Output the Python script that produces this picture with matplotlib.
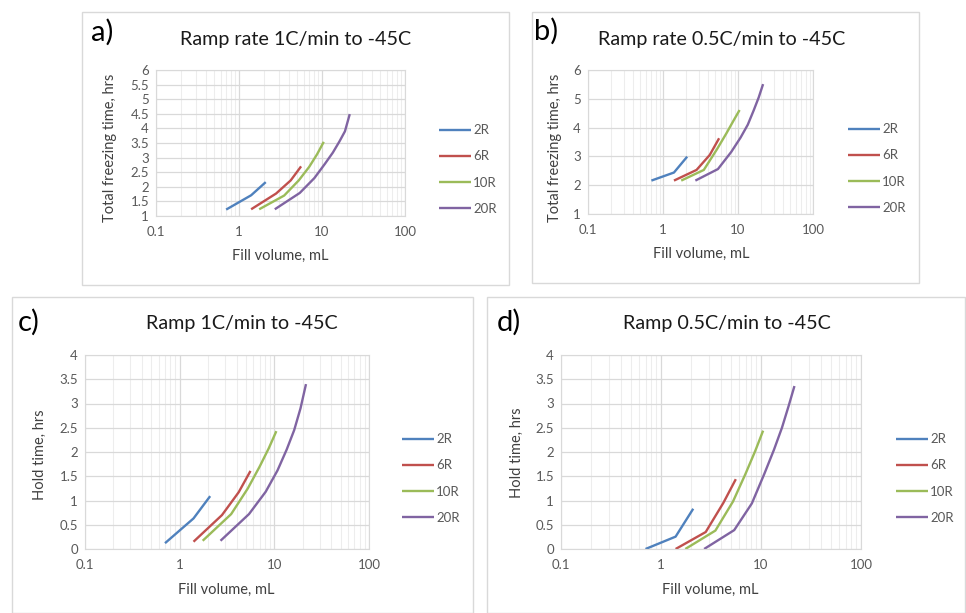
import matplotlib.pyplot as plt
from matplotlib.patches import Rectangle
from matplotlib.ticker import FixedLocator, LogLocator, NullFormatter

plt.rcParams['font.family'] = ['Lato', 'DejaVu Sans']

# fill volumes (mL) for each vial size
series_names = ['2R', '6R', '10R', '20R']
vol_2R = [0.7, 1.4, 2.1]
vol_6R = [1.4, 2.8, 4.2, 5.6]
vol_10R = [1.75, 3.5, 5.25, 7.0, 8.75, 10.5]
vol_20R = [2.7, 5.4, 8.1, 10.8, 13.5, 16.2, 18.9, 21.6]
volumes = [vol_2R, vol_6R, vol_10R, vol_20R]

# a) total freezing time, 1C/min
freeze_1C = [[1.22, 1.71, 2.16],
             [1.23, 1.77, 2.22, 2.70],
             [1.23, 1.70, 2.22, 2.68, 3.12, 3.54],
             [1.23, 1.79, 2.30, 2.78, 3.17, 3.55, 3.90, 4.49]]
# b) total freezing time, 0.5C/min
freeze_05C = [[2.16, 2.44, 2.99],
              [2.16, 2.53, 3.05, 3.63],
              [2.16, 2.53, 3.25, 3.80, 4.25, 4.61],
              [2.16, 2.56, 3.15, 3.65, 4.10, 4.60, 5.05, 5.51]]
# c) hold time, 1C/min
hold_1C = [[0.12, 0.63, 1.09],
           [0.15, 0.70, 1.17, 1.61],
           [0.17, 0.72, 1.25, 1.70, 2.08, 2.43],
           [0.17, 0.72, 1.18, 1.62, 2.05, 2.45, 2.90, 3.40]]
# d) hold time, 0.5C/min
hold_05C = [[0.0, 0.255, 0.83],
            [0.0, 0.35, 0.95, 1.44],
            [0.0, 0.38, 0.98, 1.55, 2.02, 2.44],
            [0.0, 0.39, 0.94, 1.55, 2.05, 2.50, 2.95, 3.36]]

colors = ['#4F81BD', '#C0504D', '#9BBB59', '#8064A2']

W, H = 966, 613
fig = plt.figure(figsize=(W / 100, H / 100), dpi=100)


def fx(x):
    return x / W


def fy(y):
    return 1 - y / H


def frame(x0, y0, x1, y1):
    fig.add_artist(Rectangle((fx(x0), fy(y1)), (x1 - x0) / W, (y1 - y0) / H,
                             transform=fig.transFigure, fill=False,
                             ec='#D9D9D9', lw=1))


def panel(box, data, ylim, yticks, ylabels, leg_x, leg_y):
    x0, y0, x1, y1 = box
    ax = fig.add_axes([fx(x0), fy(y1), (x1 - x0) / W, (y1 - y0) / H])
    handles = []
    for xs, ys, c, name in zip(volumes, data, colors, series_names):
        ln, = ax.plot(xs, ys, color=c, lw=1.7, label=name, solid_capstyle='butt')
        handles.append(ln)
    ax.set_xscale('log')
    ax.set_xlim(0.1, 100)
    ax.set_ylim(*ylim)
    ax.xaxis.set_major_locator(FixedLocator([0.1, 1, 10, 100]))
    ax.set_xticklabels(['0.1', '1', '10', '100'])
    ax.xaxis.set_minor_locator(LogLocator(subs=range(2, 10)))
    ax.xaxis.set_minor_formatter(NullFormatter())
    ax.set_yticks(yticks)
    ax.set_yticklabels(ylabels)
    ax.grid(which='major', color='#D9D9D9', lw=0.9)
    ax.grid(which='minor', axis='x', color='#EDEDED', lw=0.8)
    ax.set_axisbelow(True)
    ax.tick_params(which='both', length=0, labelsize=9.5, colors='#595959')
    ax.tick_params(axis='x', pad=7)
    ax.tick_params(axis='y', pad=5)
    for s in ax.spines.values():
        s.set_color('#D9D9D9')
    fig.legend(handles=handles, loc='center left',
               bbox_to_anchor=(fx(leg_x), fy(leg_y)), frameon=False,
               fontsize=9.5, labelcolor='#595959', handlelength=2.4,
               handletextpad=0.2, labelspacing=1.08, borderpad=0,
               borderaxespad=0)
    return ax


# panel frames
frame(82, 12, 509, 285)
frame(532, 12, 919, 283)
frame(12, 297, 473, 613)
frame(487, 297, 965, 613)

ticks_a = [1, 1.5, 2, 2.5, 3, 3.5, 4, 4.5, 5, 5.5, 6]
ticks_cd = [0, 0.5, 1, 1.5, 2, 2.5, 3, 3.5, 4]

panel((156, 70, 405, 216), freeze_1C, (1, 6), ticks_a,
      ['%g' % t for t in ticks_a], 439, 169.5)
panel((588, 70, 813, 214), freeze_05C, (1, 6), [1, 2, 3, 4, 5, 6],
      ['1', '2', '3', '4', '5', '6'], 848, 168.5)
panel((85, 355, 369, 549), hold_1C, (0, 4), ticks_cd,
      ['%g' % t for t in ticks_cd], 402, 478.5)
panel((561, 355, 861, 549), hold_05C, (0, 4), ticks_cd,
      ['%g' % t for t in ticks_cd], 896, 478.5)

# titles
tkw = dict(ha='center', va='center', fontsize=14.2, color='#1a1a1a')
fig.text(fx(296), fy(40), 'Ramp rate 1C/min to -45C', **tkw)
fig.text(fx(722), fy(40), 'Ramp rate 0.5C/min to -45C', **tkw)
fig.text(fx(242), fy(323), 'Ramp 1C/min to -45C', **tkw)
fig.text(fx(727), fy(323), 'Ramp 0.5C/min to -45C', **tkw)

# panel letters
lkw = dict(ha='left', va='center', fontsize=21, color='black')
fig.text(fx(91), fy(32), 'a)', **lkw)
fig.text(fx(534), fy(31), 'b)', **lkw)
fig.text(fx(18), fy(322), 'c)', **lkw)
fig.text(fx(497), fy(322), 'd)', **lkw)

# axis titles
akw = dict(ha='center', va='center', fontsize=10.5, color='#404040')
fig.text(fx(110), fy(148), 'Total freezing time, hrs', rotation=90, **akw)
fig.text(fx(555), fy(148), 'Total freezing time, hrs', rotation=90, **akw)
fig.text(fx(40), fy(455), 'Hold time, hrs', rotation=90, **akw)
fig.text(fx(517), fy(453), 'Hold time, hrs', rotation=90, **akw)
fig.text(fx(280), fy(256), 'Fill volume, mL', **akw)
fig.text(fx(701), fy(254), 'Fill volume, mL', **akw)
fig.text(fx(226), fy(590), 'Fill volume, mL', **akw)
fig.text(fx(710), fy(590), 'Fill volume, mL', **akw)

fig.savefig('out.png', dpi=100, facecolor='white')
